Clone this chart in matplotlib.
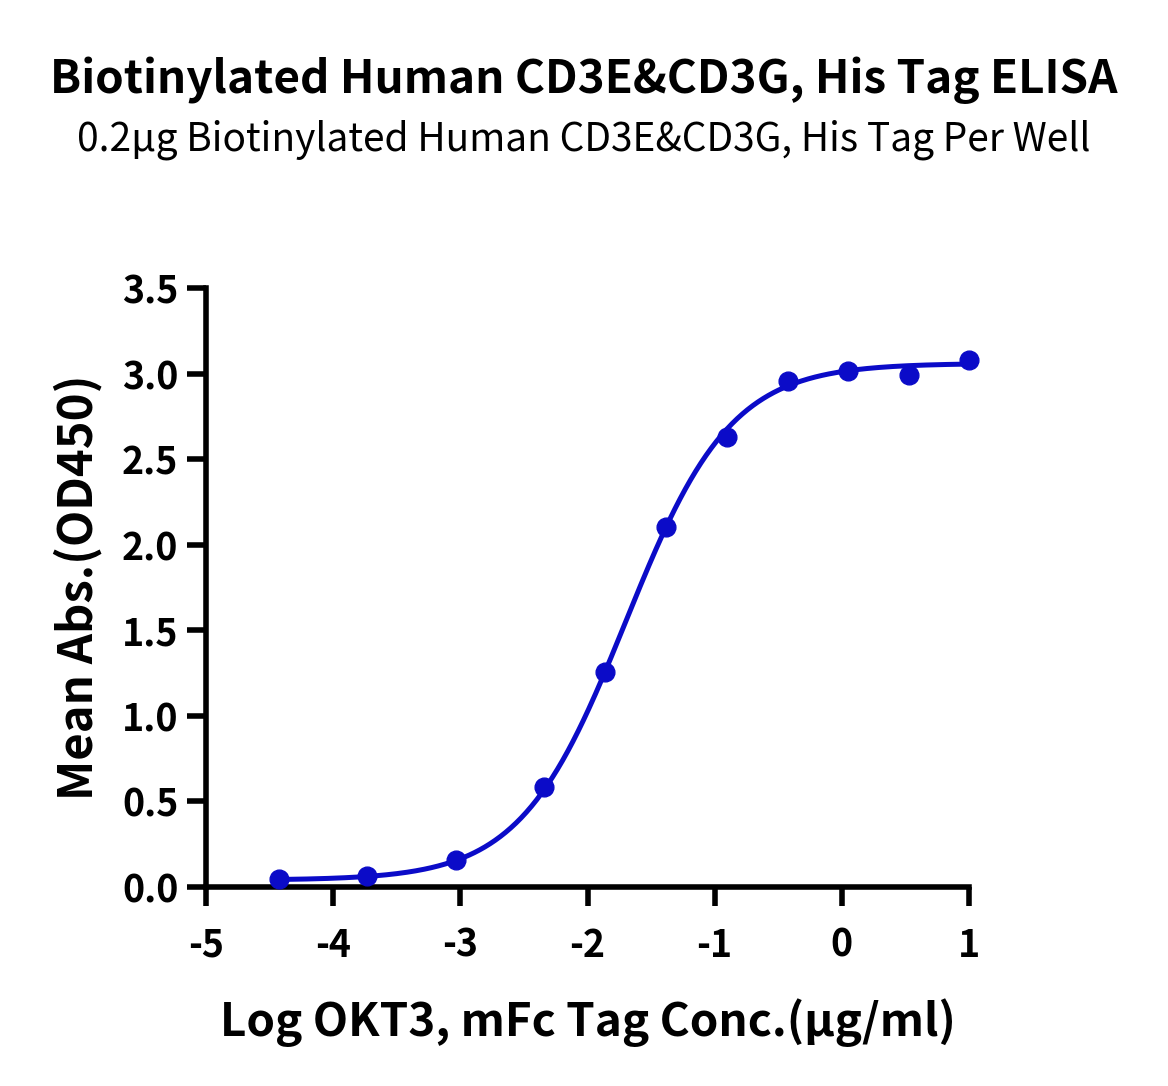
# ELISA binding curve: Biotinylated Human CD3E&CD3G vs OKT3
import numpy as np
from matplotlib import pyplot as plt

plt.rcParams['font.family'] = ['Noto Sans CJK SC', 'DejaVu Sans']

# measured points (log conc, mean OD450)
log_conc = [-4.426, -3.734, -3.035, -2.343, -1.863, -1.384, -0.904, -0.425, 0.047, 0.527, 1.0]
mean_abs = [0.047, 0.064, 0.158, 0.584, 1.257, 2.104, 2.630, 2.957, 3.016, 2.992, 3.080]

# 4PL fit parameters (bottom, top, logEC50, hill)
bottom, top, log_ec50, hill = 0.04, 3.06, -1.70, 1.05

blue = '#0b0bc8'

fig = plt.figure(figsize=(11.68, 10.86), dpi=100)
ax = fig.add_axes([0.1764, 0.1832, 0.6532, 0.5516])

xf = np.linspace(min(log_conc), max(log_conc), 400)
yf = bottom + (top - bottom) / (1 + 10 ** ((log_ec50 - xf) * hill))
ax.plot(xf, yf, color=blue, lw=3.6, zorder=3)
ax.plot(log_conc, mean_abs, 'o', color=blue, ms=13.5, zorder=4, clip_on=False)

ax.set_xlim(-5, 1)
ax.set_ylim(0, 3.5)
ax.set_xticks([-5, -4, -3, -2, -1, 0, 1])
ax.set_xticklabels(['-5', '-4', '-3', '-2', '-1', '0', '1'])
ax.set_yticks(np.arange(0, 3.6, 0.5))
ax.set_yticklabels(['%.1f' % v for v in np.arange(0, 3.6, 0.5)])

for s in ['top', 'right']:
    ax.spines[s].set_visible(False)
for s in ['left', 'bottom']:
    ax.spines[s].set_linewidth(4)
ax.tick_params(width=4, length=14, labelsize=27)
ax.tick_params(axis='x', pad=14)
ax.tick_params(axis='y', pad=6)
for lab in ax.get_xticklabels() + ax.get_yticklabels():
    lab.set_fontweight('heavy')

ax.set_xlabel('Log OKT3, mFc Tag Conc.(μg/ml)', fontsize=33, fontweight='heavy', labelpad=24)
ax.set_ylabel('Mean Abs.(OD450)', fontsize=34, fontweight='heavy', labelpad=14)

fig.text(0.5, 0.926, 'Biotinylated Human CD3E&CD3G, His Tag ELISA', ha='center', va='center',
         fontsize=33, fontweight='bold')
fig.text(0.5, 0.871, '0.2μg Biotinylated Human CD3E&CD3G, His Tag Per Well', ha='center', va='center',
         fontsize=28)

plt.savefig('out.png', dpi=100)
